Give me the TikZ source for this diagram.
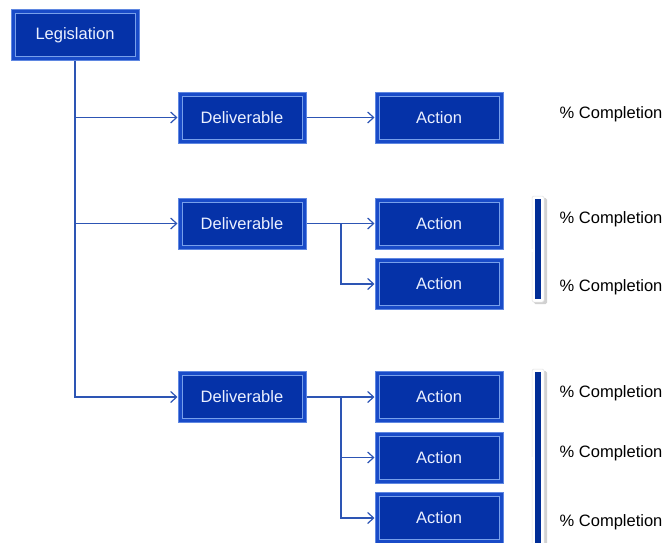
\documentclass[tikz,border=0pt]{standalone}
\usepackage{fontspec}
\setmainfont{Liberation Sans}
\usetikzlibrary{arrows.meta}
\definecolor{boxout}{RGB}{25,75,200}
\definecolor{boxedge}{RGB}{95,135,225}
\definecolor{boxin}{RGB}{5,50,168}
\definecolor{boxline}{RGB}{120,160,235}
\definecolor{conncol}{RGB}{45,85,180}
\definecolor{barcol}{RGB}{0,45,150}
\definecolor{labtext}{RGB}{235,240,255}
\tikzset{
  box/.style={draw=boxedge, line width=1pt, fill=boxout,
    minimum width=128pt, minimum height=51pt, inner sep=0pt,
    font=\fontsize{16.5}{18}\selectfont, text=labtext,
    path picture={
      \fill[boxin] ([shift={(4pt,4pt)}]path picture bounding box.south west)
        rectangle ([shift={(-4pt,-4pt)}]path picture bounding box.north east);
      \draw[boxline, line width=0.8pt] ([shift={(4pt,4pt)}]path picture bounding box.south west)
        rectangle ([shift={(-4pt,-4pt)}]path picture bounding box.north east);
    }},
  conn/.style={draw=conncol, line width=1.3pt, -{Straight Barb[length=6pt,width=11pt,line width=1.2pt]}},
  plain/.style={draw=conncol, line width=1.3pt},
  pct/.style={anchor=west, inner sep=0pt, font=\fontsize{16.5}{18}\selectfont, text=black},
  barshadow/.style={fill=black!18, rounded corners=1.5pt},
  barwhite/.style={fill=white, draw=black!12, line width=0.5pt, rounded corners=1.5pt},
  barblue/.style={fill=barcol}
}
\begin{document}
\begin{tikzpicture}[x=1pt,y=-1pt]
\useasboundingbox (0,0) rectangle (662,542);
% nodes
\node[box] (leg) at (75,35) {Legislation};
\node[box] (d1) at (242,117.5) {Deliverable};
\node[box] (a1) at (439,117.5) {Action};
\node[box] (d2) at (242,223.5) {Deliverable};
\node[box] (a2a) at (439,223.5) {Action};
\node[box] (a2b) at (439,284) {Action};
\node[box] (d3) at (242,397) {Deliverable};
\node[box] (a3a) at (439,397) {Action};
\node[box] (a3b) at (439,457.5) {Action};
\node[box] (a3c) at (439,518) {Action};
% elbows
\coordinate (e2) at (341,223.5);
\coordinate (e3) at (341,397);
% trunk
\draw[conn] (leg.south) |- (d1.west);
\draw[conn] (leg.south) |- (d2.west);
\draw[conn] (leg.south) |- (d3.west);
% deliverable to actions
\draw[conn] (d1.east) -- (a1.west);
\draw[plain] (d2.east) -- (e2);
\draw[conn] (e2) -- (a2a.west);
\draw[conn] (e2) |- (a2b.west);
\draw[plain] (d3.east) -- (e3);
\draw[conn] (e3) -- (a3a.west);
\draw[conn] (e3) |- (a3b.west);
\draw[conn] (e3) |- (a3c.west);
% brackets group 2
\fill[barshadow] (534,198) rectangle (547,304);
\path[barwhite] (532,196) rectangle (544,302);
\fill[white] (524,249) rectangle (533,252);
\fill[barblue] (535,199) rectangle (541,299);
% brackets group 3
\fill[barshadow] (534,371) rectangle (547,560);
\path[barwhite] (532,369) rectangle (544,560);
\fill[white] (524,457) rectangle (533,460);
\fill[barblue] (535,372) rectangle (541,560);
% percentages
\node[pct] (p1) at (559.5,114) {\% Completion};
\node[pct] (p2a) at (559.5,219.5) {\% Completion};
\node[pct] (p2b) at (559.5,287) {\% Completion};
\node[pct] (p3a) at (559.5,393.5) {\% Completion};
\node[pct] (p3b) at (559.5,453.5) {\% Completion};
\node[pct] (p3c) at (559.5,522) {\% Completion};
\end{tikzpicture}
\end{document}
